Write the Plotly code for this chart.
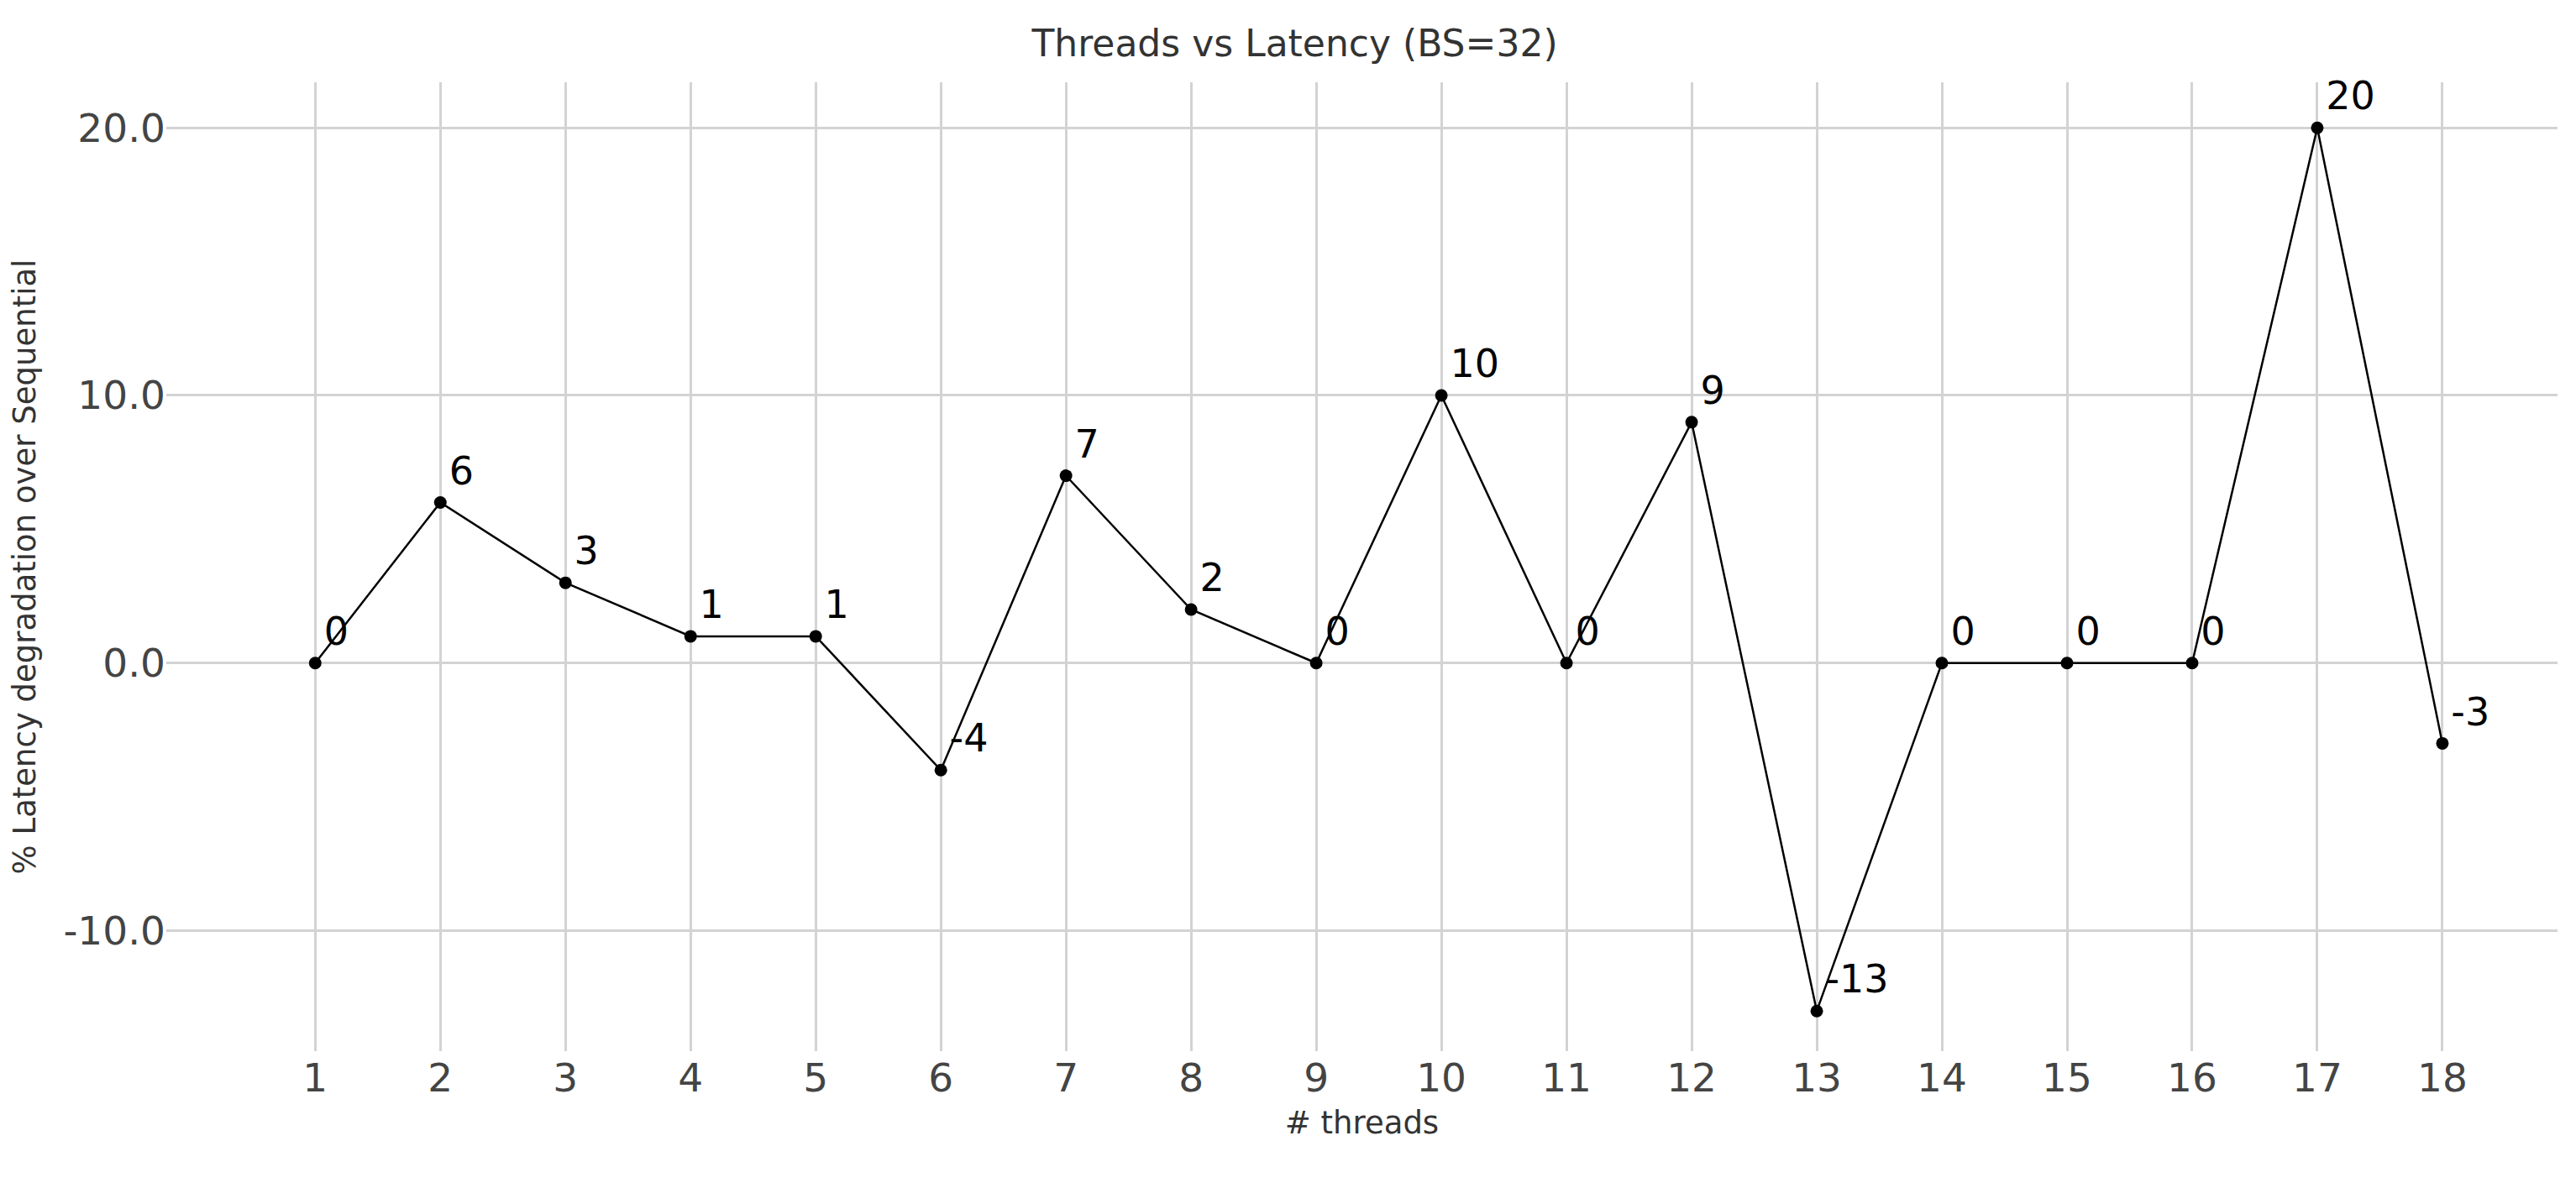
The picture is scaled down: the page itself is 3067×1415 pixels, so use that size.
import plotly.graph_objects as go

threads = list(range(1, 19))
degradation = [0, 6, 3, 1, 1, -4, 7, 2, 0, 10, 0, 9, -13, 0, 0, 0, 20, -3]
y_ticks = [-10.0, 0.0, 10.0, 20.0]

fig = go.Figure(go.Scatter(
    x=threads, y=degradation,
    mode="lines+markers+text",
    text=[str(v) for v in degradation],
    textposition="top right",
    textfont={"size": 46, "color": "black"},
    line={"color": "black", "width": 2.5},
    marker={"color": "black", "size": 15},
    cliponaxis=False,
))

fig.update_layout(
    width=3067, height=1415,
    plot_bgcolor="white", paper_bgcolor="white",
    font={"family": "DejaVu Sans", "color": "#444"},
    title={"text": "Threads vs Latency (BS=32)", "x": 0.5, "y": 0.98,
           "font": {"size": 44, "color": "#333"}},
    margin={"l": 190, "r": 30, "t": 90, "b": 171},
    showlegend=False,
)
fig.update_xaxes(
    title={"text": "# threads", "font": {"size": 37, "color": "#333"}, "standoff": 14},
    tickmode="array", tickvals=threads, ticktext=[str(t) for t in threads],
    tickfont={"size": 47}, range=[-0.19, 18.92],
    showgrid=True, gridcolor="#d3d3d3", gridwidth=3, zeroline=False, showline=False,
)
fig.update_yaxes(
    title={"text": "% Latency degradation over Sequential", "font": {"size": 37, "color": "#333"}, "standoff": 30},
    tickmode="array", tickvals=y_ticks, ticktext=[f"{v:.1f}" for v in y_ticks],
    tickfont={"size": 47}, range=[-14.5, 21.7],
    showgrid=True, gridcolor="#d3d3d3", gridwidth=3, zeroline=False, showline=False,
)

fig.write_html("out.html")
